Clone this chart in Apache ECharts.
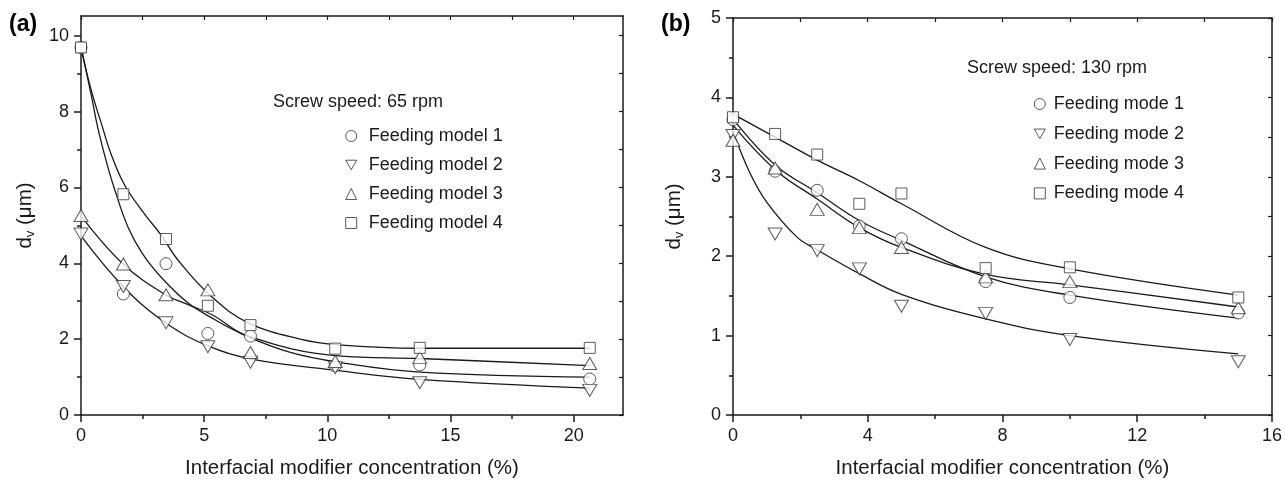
<!DOCTYPE html>
<html>
<head>
<meta charset="utf-8">
<script src="https://cdn.jsdelivr.net/npm/echarts@6/dist/echarts.min.js"></script>
<style>
  html, body { margin: 0; padding: 0; background: #fff; }
  #chart { width: 1285px; height: 484px; }
</style>
</head>
<body>
<div id="chart"></div>
<script>
// panel (a): screw speed 65 rpm
const xA = [0, 1.72, 3.45, 5.15, 6.88, 10.32, 13.75, 20.65];
const a1 = [9.69, 3.19, 3.99, 2.15, 2.08, 1.30, 1.32, 0.95];
const a2 = [4.77, 3.39, 2.43, 1.80, 1.39, 1.25, 0.85, 0.65];
const a3 = [5.26, 3.98, 3.17, 3.30, 1.65, 1.41, 1.52, 1.36];
const a4 = [9.69, 5.82, 4.64, 2.88, 2.37, 1.75, 1.77, 1.77];

// fitted curves
const fitA1x = [0, 0.42, 0.69, 1.03, 1.34, 1.91, 2.5, 3.3, 4.35, 5.2, 6.65, 8.5, 10.45, 13.75, 20.65];
const fitA1y = [9.7, 8.42, 7.55, 6.68, 6.0, 4.95, 4.25, 3.6, 2.95, 2.6, 2.1, 1.65, 1.39, 1.13, 1.0];
const fitA2x = [0, 1.71, 3.43, 5.16, 6.86, 10.45, 13.75, 20.65];
const fitA2y = [4.72, 3.39, 2.43, 1.82, 1.48, 1.17, 0.94, 0.71];
const fitA3x = [0, 1.71, 3.43, 4.35, 5.3, 6.79, 10.45, 13.75, 20.65];
const fitA3y = [5.25, 3.98, 3.17, 2.91, 2.65, 2.08, 1.56, 1.49, 1.30];
const fitA4x = [0, 0.4, 0.89, 1.23, 1.78, 2.59, 3.27, 3.94, 5.3, 6.79, 8.9, 10.45, 13.75, 20.65];
const fitA4y = [9.7, 8.6, 7.55, 6.86, 6.05, 5.29, 4.73, 4.08, 3.12, 2.43, 2.0, 1.85, 1.76, 1.76];

// panel (b): screw speed 130 rpm
const xB = [0, 1.25, 2.5, 3.75, 5, 7.5, 10, 15];
const b1 = [3.72, 3.07, 2.83, 2.38, 2.22, 1.68, 1.48, 1.285];
const b2 = [3.52, 2.28, 2.07, 1.84, 1.37, 1.28, 0.95, 0.67];
const b3 = [3.46, 3.11, 2.59, 2.36, 2.11, 1.74, 1.68, 1.35];
const b4 = [3.75, 3.54, 3.28, 2.66, 2.79, 1.85, 1.86, 1.48];

const fitB1x = [0, 1.25, 2.5, 3.75, 5, 7.5, 10, 15];
const fitB1y = [3.73, 3.15, 2.80, 2.45, 2.20, 1.74, 1.51, 1.22];
const fitB2x = [0, 0.5, 1.0, 1.9, 2.5, 3.75, 5, 7.5, 10, 15];
const fitB2y = [3.57, 3.05, 2.68, 2.24, 2.08, 1.78, 1.52, 1.21, 1.0, 0.77];
const fitB3x = [0, 1.25, 2.5, 3.75, 5, 7.5, 10, 15];
const fitB3y = [3.65, 3.09, 2.72, 2.36, 2.11, 1.77, 1.64, 1.36];
const fitB4x = [0, 1.25, 2.5, 3.75, 5, 7.5, 10, 15];
const fitB4y = [3.79, 3.50, 3.21, 2.95, 2.66, 2.11, 1.84, 1.51];

const namesA = ['Feeding model 1', 'Feeding model 2', 'Feeding model 3', 'Feeding model 4'];
const namesB = ['Feeding mode 1', 'Feeding mode 2', 'Feeding mode 3', 'Feeding mode 4'];

// ticks
const xTicksA = [0, 5, 10, 15, 20];
const xMinorA = [2.5, 7.5, 12.5, 17.5];
const xTopA = [0, 2.5, 5, 7.5, 10, 12.5, 15, 17.5, 20];
const yTicksA = [0, 2, 4, 6, 8, 10];
const yMinorA = [1, 3, 5, 7, 9];
const yRightA = [0, 1, 2, 3, 4, 5, 6, 7, 8, 9, 10];

const xTicksB = [0, 4, 8, 12, 16];
const xMinorB = [2, 6, 10, 14];
const xTopB = [0, 2, 4, 6, 8, 10, 12, 14, 16];
const yTicksB = [0, 1, 2, 3, 4, 5];
const yMinorB = [0.5, 1.5, 2.5, 3.5, 4.5];
const yRightB = [0, 0.5, 1, 1.5, 2, 2.5, 3, 3.5, 4, 4.5, 5];

const FONT = '"Liberation Sans", Arial, sans-serif';
const INK = '#1a1a1a';
const downTri = 'path://M0,0L12,0L6,10.4Z';
const symbols = ['circle', downTri, 'triangle', 'rect'];
const sizes = [12, [14, 12], [14, 12], 11];

const pair = (xs, ys) => xs.map((x, i) => [x, ys[i]]);

function xAxes(grid, max, ticks, minor, top) {
  return [
    {
      gridIndex: grid, type: 'value', min: 0, max: max, position: 'bottom',
      axisLine: { onZero: false, lineStyle: { color: INK, width: 1.5 } },
      axisTick: { customValues: ticks, length: 7, lineStyle: { color: INK, width: 1.5 } },
      axisLabel: { customValues: ticks, fontSize: 18, color: INK, fontFamily: FONT, margin: 12 },
      splitLine: { show: false },
      name: 'Interfacial modifier concentration (%)', nameLocation: 'middle', nameGap: 43,
      nameTextStyle: { fontSize: 20.5, color: INK, fontFamily: FONT }
    },
    {
      gridIndex: grid, type: 'value', min: 0, max: max, position: 'bottom',
      axisLine: { show: false, onZero: false },
      axisTick: { customValues: minor, length: 4, lineStyle: { color: INK, width: 1.5 } },
      axisLabel: { show: false }, splitLine: { show: false }
    },
    {
      gridIndex: grid, type: 'value', min: 0, max: max, position: 'top',
      axisLine: { onZero: false, lineStyle: { color: INK, width: 1.5 } },
      axisTick: { customValues: top, inside: true, length: 4, lineStyle: { color: INK, width: 1.2 } },
      axisLabel: { show: false }, splitLine: { show: false }
    }
  ];
}

function yAxes(grid, max, ticks, minor, right, gap) {
  return [
    {
      gridIndex: grid, type: 'value', min: 0, max: max, position: 'left',
      axisLine: { onZero: false, lineStyle: { color: INK, width: 1.5 } },
      axisTick: { customValues: ticks, length: 7, lineStyle: { color: INK, width: 1.5 } },
      axisLabel: { customValues: ticks, fontSize: 18, color: INK, fontFamily: FONT, margin: 12 },
      splitLine: { show: false },
      name: '{a|d}{s|v}{a| (\u03bcm)}', nameLocation: 'middle', nameGap: gap,
      nameTextStyle: {
        color: INK, fontFamily: FONT,
        rich: {
          a: { fontSize: 20.5, fontFamily: FONT, color: INK, lineHeight: 24 },
          s: { fontSize: 13, fontFamily: FONT, color: INK, verticalAlign: 'bottom', lineHeight: 12 }
        }
      }
    },
    {
      gridIndex: grid, type: 'value', min: 0, max: max, position: 'left',
      axisLine: { show: false, onZero: false },
      axisTick: { customValues: minor, length: 4, lineStyle: { color: INK, width: 1.5 } },
      axisLabel: { show: false }, splitLine: { show: false }
    },
    {
      gridIndex: grid, type: 'value', min: 0, max: max, position: 'right',
      axisLine: { onZero: false, lineStyle: { color: INK, width: 1.5 } },
      axisTick: { customValues: right, inside: true, length: 4, lineStyle: { color: INK, width: 1.2 } },
      axisLabel: { show: false }, splitLine: { show: false }
    }
  ];
}

function markers(names, xs, ys, axis) {
  return names.map((n, i) => ({
    name: n, type: 'scatter', xAxisIndex: axis, yAxisIndex: axis, z: 4,
    symbol: symbols[i], symbolSize: sizes[i],
    itemStyle: { color: '#fff', borderColor: '#333', borderWidth: 1 },
    data: pair(xs, ys[i])
  }));
}

function fits(list, axis) {
  return list.map(f => ({
    type: 'line', xAxisIndex: axis, yAxisIndex: axis, z: 3,
    showSymbol: false, symbol: 'none', smooth: 0.4, silent: true,
    lineStyle: { color: INK, width: 1.3 },
    data: pair(f[0], f[1])
  }));
}

function legend(names, left, top, pad, gap) {
  return {
    data: names, orient: 'vertical', left: left, top: top, padding: 0,
    itemWidth: 11, itemHeight: 11, itemGap: gap,
    itemStyle: { color: '#fff', borderColor: '#333', borderWidth: 1 },
    textStyle: { fontSize: 18, color: INK, fontFamily: FONT, padding: [0, 0, 0, pad] }
  };
}

const chart = echarts.init(document.getElementById('chart'));
chart.setOption({
  animation: false,
  backgroundColor: '#fff',
  title: [
    { text: '(a)', left: 9, top: 13, padding: 0, textStyle: { fontSize: 23, fontWeight: 'bold', color: '#000', fontFamily: FONT } },
    { text: '(b)', left: 661, top: 13, padding: 0, textStyle: { fontSize: 23, fontWeight: 'bold', color: '#000', fontFamily: FONT } },
    { text: 'Screw speed: 65 rpm', left: 273, top: 93, padding: 0, textStyle: { fontSize: 18, fontWeight: 'normal', color: INK, fontFamily: FONT } },
    { text: 'Screw speed: 130 rpm', left: 967, top: 59, padding: 0, textStyle: { fontSize: 18, fontWeight: 'normal', color: INK, fontFamily: FONT } }
  ],
  legend: [
    legend(namesA, 345.2, 127, 7, 11),
    legend(namesB, 1033.8, 95, 3.5, 11.8)
  ],
  grid: [
    { left: 81, top: 16, width: 542, height: 404 },
    { left: 733, top: 18, width: 540, height: 402 }
  ],
  xAxis: xAxes(0, 22, xTicksA, xMinorA, xTopA).concat(xAxes(1, 16, xTicksB, xMinorB, xTopB)),
  yAxis: yAxes(0, 10.52, yTicksA, yMinorA, yRightA, 44).concat(yAxes(1, 5, yTicksB, yMinorB, yRightB, 47)),
  series: [].concat(
    fits([[fitA1x, fitA1y], [fitA2x, fitA2y], [fitA3x, fitA3y], [fitA4x, fitA4y]], 0),
    markers(namesA, xA, [a1, a2, a3, a4], 0),
    fits([[fitB1x, fitB1y], [fitB2x, fitB2y], [fitB3x, fitB3y], [fitB4x, fitB4y]], 3),
    markers(namesB, xB, [b1, b2, b3, b4], 3)
  )
});
</script>
</body>
</html>
